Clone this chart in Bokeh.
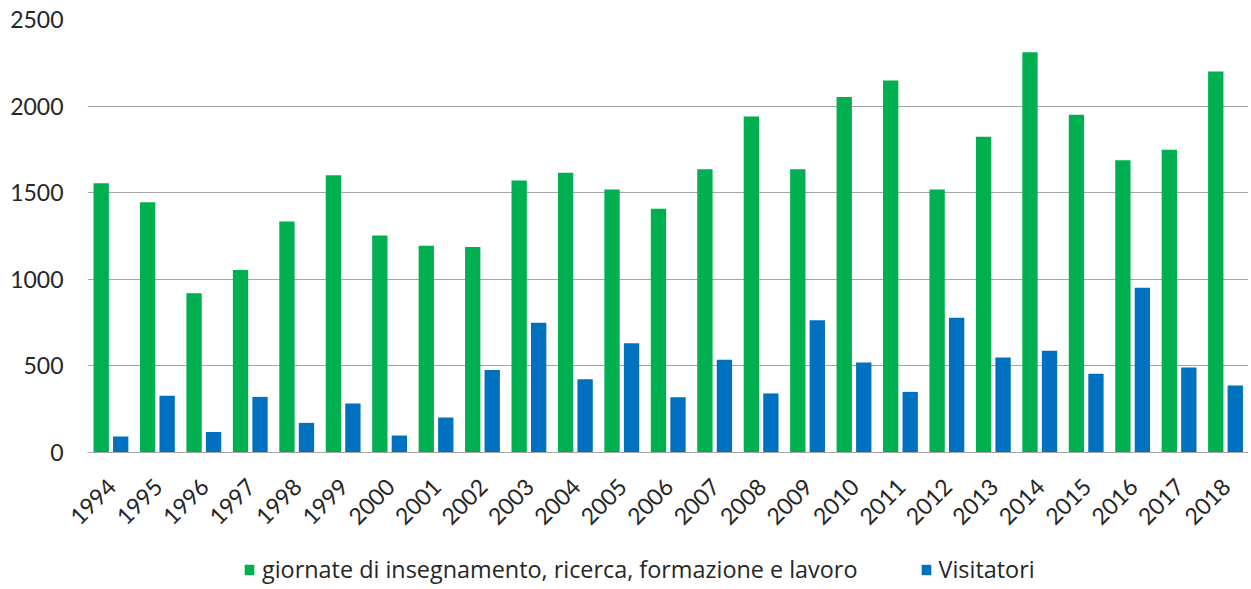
import math
from bokeh.plotting import figure
from bokeh.models import (ColumnDataSource, Legend, LegendItem, FixedTicker, Range1d,
                          LinearAxis, BoxAnnotation)
from bokeh.core.properties import value
from bokeh.transform import dodge
from bokeh.embed import file_html
from bokeh.resources import INLINE

years = ["1994", "1995", "1996", "1997", "1998", "1999", "2000", "2001", "2002",
         "2003", "2004", "2005", "2006", "2007", "2008", "2009", "2010", "2011",
         "2012", "2013", "2014", "2015", "2016", "2017", "2018"]
giornate = [1555, 1445, 920, 1053, 1334, 1601, 1253, 1193, 1186, 1570, 1615, 1518,
            1407, 1636, 1940, 1636, 2052, 2148, 1518, 1823, 2311, 1950, 1688, 1748, 2200]
visitatori = [92, 327, 119, 321, 171, 283, 98, 202, 477, 749, 423, 631, 319, 535, 341,
              764, 520, 350, 778, 549, 587, 454, 951, 491, 387]
y_ticks = [0, 500, 1000, 1500, 2000, 2500]
series_names = ["giornate di insegnamento, ricerca, formazione e lavoro", "Visitatori"]

n = len(years)
slot = [i + 0.5 for i in range(n)]  # centre of each year's slot on the x scale

src = ColumnDataSource(data=dict(slot=slot, years=years, giornate=giornate,
                                 visitatori=visitatori))

FONT = "Lato"
TXT = "#262626"
GRID = "#A6A6A6"

# layout constants (pixels)
PLOT_H = 433          # height of the 0..2500 value band
FRAME_H = 568         # frame extends below the value band for year labels + legend
SLOT_PX = 1161 / n    # width of one year slot
LEFT_EXTRA = 21       # frame extends a little left of the first slot so labels fit
y_top = 2500
px = y_top / PLOT_H   # data units per pixel
y_bottom = -px * (FRAME_H - PLOT_H)

p = figure(x_range=Range1d(-LEFT_EXTRA / SLOT_PX, n), y_range=Range1d(y_bottom, y_top),
           frame_width=1161 + LEFT_EXTRA, frame_height=FRAME_H,
           output_backend="svg", toolbar_location=None,
           min_border_left=87 - LEFT_EXTRA, min_border_right=0, min_border_top=19,
           min_border_bottom=0, x_axis_location=None)

p.outline_line_color = None
p.xgrid.grid_line_color = None
p.ygrid.ticker = FixedTicker(ticks=y_ticks)
p.ygrid.grid_line_color = GRID
p.ygrid.grid_line_width = 1
if "cross_bounds" in p.ygrid[0].properties():
    p.ygrid.cross_bounds = (0, n)

# blank strip left of the first slot (hides grid there)
p.add_layout(BoxAnnotation(right=0, fill_color="white", fill_alpha=1, line_color=None,
                           level="underlay"))

g = p.vbar(x=dodge("slot", -0.205), top="giornate", width=0.33,
           source=src, fill_color="#00B050", line_color=None)
b = p.vbar(x=dodge("slot", 0.215), top="visitatori", width=0.33,
           source=src, fill_color="#0070C0", line_color=None)

# category axis line at value 0
xaxis = LinearAxis(fixed_location=0, ticker=FixedTicker(ticks=[]), bounds=(0, n))
xaxis.axis_line_color = GRID
xaxis.major_tick_line_color = None
xaxis.minor_tick_line_color = None
xaxis.major_label_text_font_size = "0px"
p.add_layout(xaxis, "below")

# year labels, rotated 45 degrees, below the axis line
p.text(x=dodge("slot", 0.02), y=-30 * px, text="years", source=src, angle=math.pi / 4,
       text_align="right", text_baseline="middle", text_font=value(FONT),
       text_font_size="23px", text_color=TXT)

p.yaxis.ticker = FixedTicker(ticks=y_ticks)
p.yaxis.axis_line_color = None
p.yaxis.major_tick_line_color = None
p.yaxis.minor_tick_line_color = None
p.yaxis.major_label_text_font = FONT
p.yaxis.major_label_text_font_size = "23px"
p.yaxis.major_label_text_color = TXT
p.yaxis.major_label_standoff = -3

legend = Legend(items=[LegendItem(label=series_names[0], renderers=[g]),
                       LegendItem(label=series_names[1], renderers=[b])],
                orientation="horizontal", location=(243 - (87 - LEFT_EXTRA), 2),
                label_text_font="Open Sans", label_text_font_size="23.4px", label_text_color=TXT,
                glyph_width=12, glyph_height=13, label_standoff=7, spacing=62,
                border_line_color=None, background_fill_alpha=0, margin=0, padding=0)
p.add_layout(legend, "center")

open("out.html", "w").write(file_html(p, INLINE))
